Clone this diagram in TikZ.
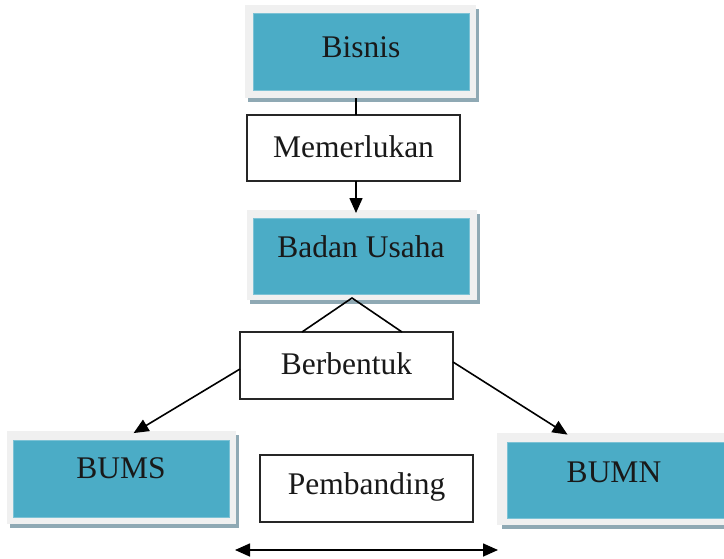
\documentclass[tikz,border=0pt]{standalone}
\usepackage{fontspec}
\setmainfont{Liberation Serif}
\usetikzlibrary{arrows.meta}
\definecolor{tealc}{HTML}{4BACC6}
\definecolor{tealedge}{HTML}{7CC2D5}
\definecolor{framec}{HTML}{F0F0F0}
\definecolor{shadowc}{HTML}{8FA9B4}
\begin{document}
\begin{tikzpicture}[x=1pt,y=-1pt,
  shadowbox/.style={rectangle, fill=shadowc, draw=none, inner sep=0pt, outer sep=0pt},
  framebox/.style={rectangle, fill=framec, draw=none, inner sep=0pt, outer sep=0pt},
  tealbox/.style={rectangle, fill=tealc, draw=tealedge, line width=1pt, inner sep=0pt, outer sep=0pt, minimum width=216pt, minimum height=77pt},
  whitebox/.style={rectangle, fill=white, draw=black!85, line width=1.5pt, inner sep=0pt, outer sep=0pt, minimum width=213pt, minimum height=66pt},
  lbl/.style={inner sep=0pt, font=\fontsize{31.5}{38}\selectfont, text=black!90},
  conn/.style={draw=black, line width=1.6pt},
  arr/.style={conn, -{Triangle[length=15pt,width=13pt]}},
  arrboth/.style={conn, {Triangle[length=15pt,width=13pt]}-{Triangle[length=15pt,width=13pt]}}
]
\useasboundingbox (0,0) rectangle (724,558);
\fill[white] (0,0) rectangle (724,558);

% Bisnis
\node[shadowbox, minimum width=231pt, minimum height=93pt] (bisnisS) at (363.5,55.5) {};
\node[framebox, minimum width=231pt, minimum height=93pt] (bisnisF) at (360.5,51.5) {};
\node[tealbox] (bisnisT) at (361,51.5) {};
\node[lbl] (bisnisL) at (361,47) {Bisnis};

% Badan Usaha
\node[shadowbox, minimum width=230pt, minimum height=90pt] (badanS) at (365,259) {};
\node[framebox, minimum width=230pt, minimum height=90pt] (badanF) at (362,255) {};
\node[tealbox, minimum height=76pt] (badanT) at (361,256) {};
\node[lbl] (badanL) at (361,247) {Badan Usaha};

% BUMS
\node[shadowbox, minimum width=229pt, minimum height=93pt] (bumsS) at (124.5,481.5) {};
\node[framebox, minimum width=229pt, minimum height=93pt] (bumsF) at (121.5,477.5) {};
\node[tealbox] (bumsT) at (121,478.5) {};
\node[lbl] (bumsL) at (121,468) {BUMS};

% BUMN
\node[shadowbox, minimum width=238pt, minimum height=92pt] (bumnS) at (621,483) {};
\node[framebox, minimum width=238pt, minimum height=92pt] (bumnF) at (616,479) {};
\node[tealbox, minimum width=218pt, minimum height=76pt] (bumnT) at (616,480) {};
\node[lbl] (bumnL) at (614,472) {BUMN};

% white boxes
\node[whitebox] (memer) at (353.5,148) {};
\node[lbl] (memerL) at (353.5,147) {Memerlukan};
\node[whitebox, minimum height=67pt] (berb) at (346.5,365.5) {};
\node[lbl] (berbL) at (346.5,364) {Berbentuk};
\node[whitebox, minimum height=67pt] (pemb) at (366.5,488.5) {};
\node[lbl] (pembL) at (366.5,487) {Pembanding};

% connectors
\draw[conn] ([xshift=2.5pt]memer.north) -- ([xshift=2.5pt]memer.north |- bisnisF.south);
\draw[arr, shorten >=-3pt] ([xshift=2.5pt]memer.south) -- ([xshift=2.5pt]memer.south |- badanF.north);
\coordinate (apex) at (352,298);
\draw[conn, line join=miter] ([xshift=-44.5pt]berb.north) -- (apex) -- ([xshift=55.5pt]berb.north);
\draw[arr, shorten >=-4pt] ([yshift=-3.5pt]berb.west) -- ([xshift=15.5pt]bumsF.north);
\draw[arr, shorten >=-3pt] ([yshift=3.5pt]berb.east) -- ([xshift=-51pt]bumnF.north);
\coordinate (cmpL) at (235,550);
\coordinate (cmpR) at (498,550);
\draw[arrboth] (cmpL) -- (cmpR);
\end{tikzpicture}
\end{document}
